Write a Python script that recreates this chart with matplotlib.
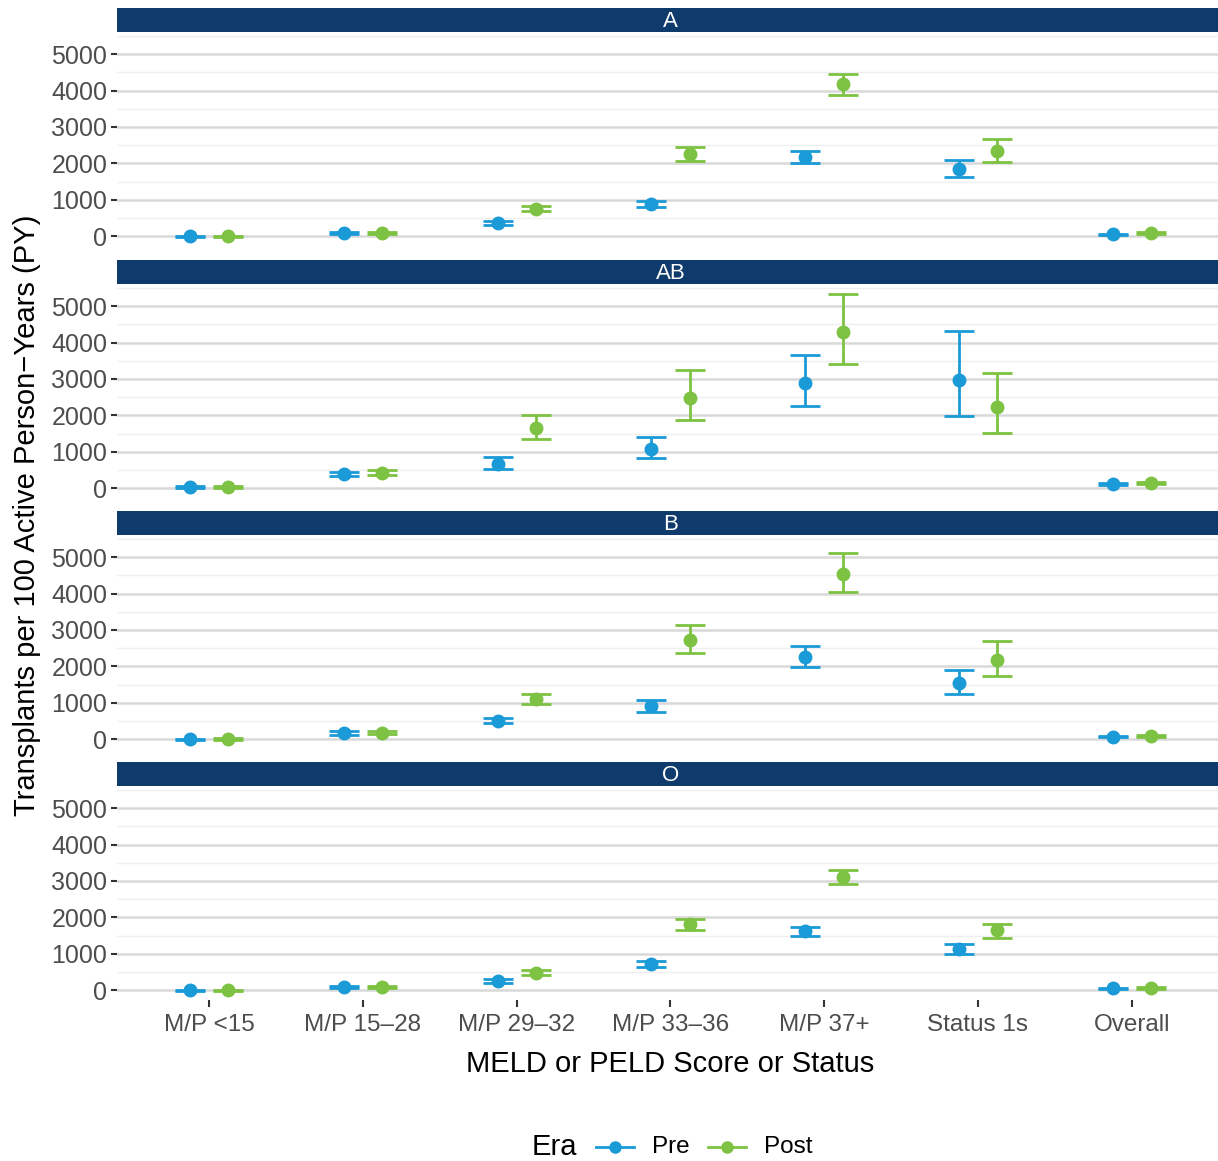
import numpy as np
import matplotlib
matplotlib.use("Agg")
import matplotlib.pyplot as plt
from matplotlib.lines import Line2D

plt.rcParams['font.family'] = ['Liberation Sans', 'DejaVu Sans']

# Data
categories = ['M/P <15', 'M/P 15\u201328', 'M/P 29\u201332', 'M/P 33\u201336',
              'M/P 37+', 'Status 1s', 'Overall']
groups = ['A', 'AB', 'B', 'O']

# rate, lower CI, upper CI per group
pre_rate = {
    'A':  [0, 90, 366, 897, 2189, 1850, 55],
    'AB': [28, 394, 679, 1083, 2899, 2982, 119],
    'B':  [0, 175, 515, 919, 2261, 1553, 74],
    'O':  [0, 82, 256, 723, 1621, 1136, 55],
}
pre_low = {
    'A':  [-20, 60, 320, 800, 2015, 1640, 35],
    'AB': [5, 340, 540, 826, 2266, 1982, 95],
    'B':  [-20, 130, 440, 754, 1985, 1241, 55],
    'O':  [-20, 60, 190, 650, 1484, 1007, 40],
}
pre_high = {
    'A':  [20, 120, 410, 980, 2353, 2097, 75],
    'AB': [50, 460, 862, 1413, 3651, 4321, 145],
    'B':  [20, 220, 590, 1075, 2555, 1912, 95],
    'O':  [20, 105, 320, 790, 1749, 1273, 70],
}
post_rate = {
    'A':  [0, 90, 750, 2271, 4176, 2344, 82],
    'AB': [37, 431, 1642, 2486, 4294, 2220, 156],
    'B':  [9, 184, 1103, 2730, 4540, 2188, 92],
    'O':  [0, 82, 485, 1832, 3114, 1648, 64],
}
post_low = {
    'A':  [-20, 60, 690, 2070, 3890, 2050, 60],
    'AB': [10, 370, 1340, 1881, 3413, 1505, 125],
    'B':  [-15, 150, 974, 2362, 4035, 1746, 70],
    'O':  [-20, 60, 430, 1667, 2912, 1438, 45],
}
post_high = {
    'A':  [20, 120, 825, 2454, 4460, 2683, 105],
    'AB': [65, 495, 2009, 3248, 5339, 3165, 185],
    'B':  [30, 220, 1232, 3134, 5101, 2702, 115],
    'O':  [20, 105, 550, 1969, 3306, 1832, 85],
}

blue = '#1a9ad6'
green = '#7dc242'
navy = '#0e3b6b'

W, H = 1218, 1161
fig = plt.figure(figsize=(W / 100, H / 100), dpi=100)

x = np.arange(1, len(categories) + 1)
dodge = 0.125

# panel extends a bit past the right edge, as in the original
left, right = 117, 1224
strip_tops = [8, 260, 511, 762]
strip_h = 24
panel_h = 214

for i, g in enumerate(groups):
    top = strip_tops[i] + strip_h
    ax = fig.add_axes([left / W, 1 - (top + panel_h) / H,
                       (right - left) / W, panel_h / H])
    # strip
    sax = fig.add_axes([left / W, 1 - top / H, (right - left) / W, strip_h / H])
    sax.set_facecolor(navy)
    sax.set_xticks([])
    sax.set_yticks([])
    for s in sax.spines.values():
        s.set_visible(False)
    sax.text(0.5, 0.45, g, color='white', fontsize=16, ha='center', va='center',
             transform=sax.transAxes)

    # gridlines
    for v in range(0, 6000, 1000):
        ax.axhline(v, color='#d9d9d9', lw=1.8, zorder=0)
    for v in range(500, 6000, 1000):
        ax.axhline(v, color='#efefef', lw=1.0, zorder=0)

    for rate, lo, hi, off, col in [(pre_rate, pre_low, pre_high, -dodge, blue),
                                   (post_rate, post_low, post_high, dodge, green)]:
        r = np.array(rate[g])
        yerr = [r - np.array(lo[g]), np.array(hi[g]) - r]
        ax.errorbar(x + off, r, yerr=yerr, fmt='o', color=col, ms=9,
                    elinewidth=2.0, capsize=11, capthick=2.0, zorder=3)

    ax.set_xlim(0.4, 7.6)
    ax.set_ylim(-267, 5606)
    ax.set_yticks(range(0, 6000, 1000))
    ax.set_yticklabels([str(v) for v in range(0, 6000, 1000)])
    ax.tick_params(axis='y', labelsize=18, labelcolor='#4d4d4d', color='#333333',
                   length=4, width=1.5, pad=3)
    for s in ax.spines.values():
        s.set_visible(False)
    ax.set_facecolor('none')
    ax.set_xticks(x)
    if i == len(groups) - 1:
        ax.set_xticklabels(categories)
        ax.tick_params(axis='x', labelsize=17.5, labelcolor='#4d4d4d', color='#333333',
                       length=5, width=1.5, pad=5)
        ax.set_xlabel('MELD or PELD Score or Status', fontsize=21, labelpad=10)
    else:
        ax.tick_params(axis='x', length=0, labelbottom=False)

fig.text(27 / W, 1 - 515 / H, 'Transplants per 100 Active Person\u2212Years (PY)',
         rotation=90, fontsize=21, ha='center', va='center')

# legend, drawn by hand so the title sits left of the keys
ly = 1 - 1147 / H
fig.text(532 / W, ly, 'Era', fontsize=21, ha='left', va='center')
for x0, col, lab in [(596, blue, 'Pre'), (708, green, 'Post')]:
    fig.add_artist(Line2D([x0 / W, (x0 + 38) / W], [ly, ly], color=col, lw=2.0,
                          transform=fig.transFigure))
    fig.add_artist(Line2D([(x0 + 19) / W], [ly], color=col, marker='o', ms=8,
                          transform=fig.transFigure))
    fig.text((x0 + 56) / W, ly, lab, fontsize=17.5, ha='left', va='center')

fig.savefig('out.png', dpi=100)
